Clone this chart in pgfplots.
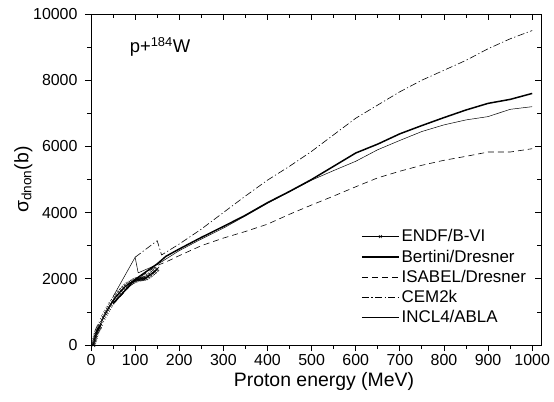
\documentclass[border=0pt]{standalone}
\usepackage{fontspec}
\setmainfont{Liberation Sans}
\usepackage{pgfplots}
\pgfplotsset{compat=1.18}
\begin{document}
\begin{tikzpicture}
\pgfplotsset{
  myframe/.style={
    scale only axis, width=450bp, height=331bp,
    xmin=0, xmax=1020, ymin=0, ymax=10000,
    xtick={0,100,...,1000}, ytick={0,2000,...,10000},
    scaled ticks=false,
    minor x tick num=1, minor y tick num=1,
    major tick length=6bp, minor tick length=4bp,
    axis line style={line width=0.9pt},
    every tick/.style={line width=0.8pt, black},
  }
}
\begin{axis}[myframe, name=main,
  xtick pos=left, ytick pos=left, tick align=outside,
  /pgf/number format/assume math mode=true,
  /pgf/number format/1000 sep={},
  tick label style={font=\fontsize{16}{18}\selectfont},
  yticklabel style={xshift=-4bp},
  xlabel={Proton energy (MeV)},
  ylabel={σ\textsubscript{dnon}(b)},
  label style={font=\fontsize{19.5}{22}\selectfont},
  xlabel style={yshift=0bp, xshift=8bp},
  ylabel style={yshift=-6bp},
  legend style={at={(0.6,0.355)}, anchor=north west, draw=none, fill=none,
    font=\fontsize{17}{19}\selectfont, row sep=2.5bp,
    legend cell align=left, inner sep=0pt},
]
% ENDF/B-VI
\addplot[black, line width=0.5pt, mark=x, mark size=2.8pt, mark options={line width=0.5pt},
  legend image code/.code={\draw[black,line width=0.5pt] (0bp,0bp) -- (37bp,0bp); \draw[black,line width=0.5pt] plot[mark=x, mark size=2.2pt] coordinates {(18.5bp,0bp)};}]
coordinates {
(5,0)(6,50)(7,100)(8,150)(9,200)(10,250)(11,300)(12,350)(13,390)(14,420)(15,450)(16,480)(17,510)(18,530)(19,550)(20,570)
(22,640)(25,750)(28,830)(30,880)(33,950)(35,1000)(38,1070)(40,1120)(43,1190)(45,1230)(48,1290)(50,1330)
(53,1390)(55,1430)(58,1480)(60,1510)(63,1560)(65,1590)(68,1630)(70,1660)(73,1700)(75,1730)(78,1770)(80,1790)
(83,1820)(85,1840)(88,1860)(90,1880)(93,1905)(95,1920)(98,1940)(100,1950)(103,1970)(105,1980)(108,1985)(110,1990)
(113,1995)(115,2000)(118,2005)(120,2010)(123,2020)(125,2030)(128,2060)(130,2080)(133,2110)(135,2130)(138,2160)(140,2180)
(143,2210)(145,2230)(148,2270)(150,2300)
};
\addlegendentry{ENDF/B-VI}
% Bertini/Dresner
\addplot[black, line width=1.5pt,
  legend image code/.code={\draw[black,line width=1.5pt] (0bp,0bp) -- (37bp,0bp);}] coordinates {
(50,1250)(100,1980)(150,2450)(170,2680)(200,2900)(250,3250)(300,3580)(350,3920)(400,4300)(450,4640)(500,5000)
(550,5400)(600,5800)(650,6070)(700,6380)(750,6630)(800,6870)(850,7100)(900,7300)(950,7420)(1000,7600)
};
\addlegendentry{Bertini/Dresner}
% ISABEL/Dresner
\addplot[black, line width=0.6pt, dash pattern=on 6bp off 4bp,
  legend image code/.code={\draw[black,line width=0.6pt, dash pattern=on 6bp off 4bp] (0bp,0bp) -- (37bp,0bp);}] coordinates {
(50,1230)(100,1950)(150,2400)(175,2540)(200,2700)(250,3000)(300,3230)(350,3430)(400,3650)(450,3950)(500,4230)
(550,4500)(600,4780)(650,5050)(700,5250)(750,5430)(800,5580)(850,5700)(900,5830)(950,5830)(1000,5930)
};
\addlegendentry{ISABEL/Dresner}
% CEM2k
\addplot[black, line width=0.6pt, dash pattern=on 7bp off 2.5bp on 1.2bp off 2.5bp,
  legend image code/.code={\draw[black,line width=0.6pt, dash pattern=on 7bp off 2.5bp on 1.2bp off 2.5bp] (0bp,0bp) -- (37bp,0bp);}] coordinates {
(100,2650)(150,3150)(160,2720)(200,3050)(250,3500)(300,4000)(350,4500)(400,4980)(450,5400)(500,5850)(550,6350)
(600,6850)(650,7250)(700,7650)(750,8000)(800,8300)(850,8600)(900,8950)(950,9250)(1000,9500)
};
\addlegendentry{CEM2k}
% INCL4/ABLA
\addplot[black, line width=0.5pt,
  legend image code/.code={\draw[black,line width=0.5pt] (0bp,0bp) -- (37bp,0bp);}] coordinates {
(50,1460)(100,2650)(107,2180)(150,2430)(200,2850)(250,3200)(300,3530)(350,3900)(400,4280)(450,4630)(500,4980)
(550,5270)(600,5550)(650,5900)(700,6180)(750,6450)(800,6650)(850,6800)(900,6900)(950,7120)(1000,7200)
};
\addlegendentry{INCL4/ABLA}
\node[anchor=west, font=\fontsize{18.5}{20}\selectfont] at (axis cs:80,9000) {p+\textsuperscript{184}W};
\end{axis}
\begin{axis}[myframe,
  xtick pos=right, ytick pos=right, tick align=inside,
  xticklabels={}, yticklabels={}, axis line style={draw=none}]
\end{axis}
\path ([xshift=-91bp,yshift=-57bp]main.south west) rectangle ([xshift=13bp,yshift=14bp]main.north east);
\end{tikzpicture}
\end{document}
